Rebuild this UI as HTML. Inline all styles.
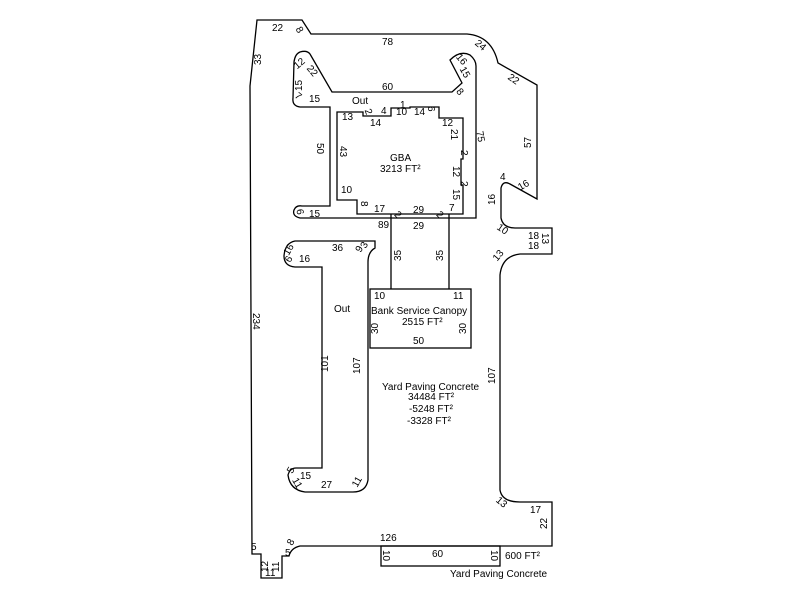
<!DOCTYPE html>
<html><head><meta charset="utf-8"><style>
html,body{margin:0;padding:0;background:#fff;}
svg{display:block;}
text{font-family:"Liberation Sans",sans-serif;font-size:10px;fill:#000;}
</style></head><body>
<svg width="800" height="600" viewBox="0 0 800 600" xmlns="http://www.w3.org/2000/svg">
<g fill="none" stroke="#000" stroke-width="1.3">
<path d="M257,20 L302,20 L311,34 L467,34 Q492,36 498,63 L537,85 L537,199 L510,184 Q503,180 501,188 L501,218 Q503,228 515,228 L552,228 L552,254 L520,254 Q502,256 500,275 L500,490 Q502,502 520,502 L552,502 L552,546 L300,546 Q291,548 289,556 L282,556 L282,578 L261,578 L261,554 L252,554 L250,86 Z"/>
<path d="M300,52 Q307,50 310,54 L332,92 L452,92 L462,83 L450,60 Q460,50 470,55 Q476,60 476,66 L476,218 L300,218 Q292,216 294,210 Q296,205 302,206 L330,206 L330,107 L300,107 Q292,106 293,98 L294,62 Q295,54 300,52 Z"/>
<path d="M337,112 L363,112 L363,116 L391,116 L391,108 L410,108 L410,107 L439,107 L439,118 L463,118 L463,159 L461,159 L461,185 L463,185 L463,214 L357,214 L357,200 L337,200 Z"/>
<path d="M391,214 L391,289 M449,214 L449,289"/>
<rect x="370" y="289" width="101" height="59"/>
<path d="M295,241 L375,241 L375,248 Q368,252 368,262 L368,480 Q366,492 353,492 L305,492 Q290,490 288,475 Q290,468 296,468 L322,468 L322,267 L295,267 Q284,266 284,256 Q285,243 295,241 Z"/>
<rect x="381" y="546" width="119" height="20"/>
</g>
<g>
<text x="272" y="31">22</text>
<text x="296" y="34" transform="rotate(60 300 31)">8</text>
<text x="382" y="45">78</text>
<text x="475" y="48" transform="rotate(40 480 45)">24</text>
<text x="508" y="82" transform="rotate(35 513 79)">22</text>
<text x="523" y="146" transform="rotate(-90 528 143)">57</text>
<text x="518" y="188" transform="rotate(-30 524 185)">16</text>
<text x="500" y="180">4</text>
<text x="485" y="201" transform="rotate(-90 492 198)">16</text>
<text x="497" y="232" transform="rotate(35 502 229)">10</text>
<text x="528" y="239">18</text>
<text x="528" y="249">18</text>
<text x="540" y="241" transform="rotate(90 545 238)">13</text>
<text x="493" y="259" transform="rotate(-50 498 256)">13</text>
<text x="485" y="380" transform="rotate(-90 492 377)">107</text>
<text x="496" y="505" transform="rotate(40 501 502)">13</text>
<text x="530" y="513">17</text>
<text x="537" y="525" transform="rotate(-90 544 522)">22</text>
<text x="248" y="58" transform="rotate(-90 258 55)">33</text>
<text x="250" y="322" transform="rotate(90 256 319)">234</text>
<text x="251" y="550">5</text>
<text x="258" y="568" transform="rotate(-90 265 565)">12</text>
<text x="269" y="568" transform="rotate(-90 276 565)">11</text>
<text x="265" y="576">11</text>
<text x="285" y="556">5</text>
<text x="288" y="545" transform="rotate(-60 291 542)">8</text>
<text x="380" y="541">126</text>
<text x="432" y="557">60</text>
<text x="382" y="557" transform="rotate(90 386 554)">10</text>
<text x="490" y="557" transform="rotate(90 494 554)">10</text>
<text x="505" y="559">600 FT²</text>
<text x="450" y="577">Yard Paving Concrete</text>
<text x="382" y="90">60</text>
<text x="352" y="104">Out</text>
<text x="294" y="67" transform="rotate(-40 299 64)">12</text>
<text x="306" y="75" transform="rotate(50 313 72)">22</text>
<text x="292" y="87" transform="rotate(-90 299 84)">15</text>
<text x="295" y="100" transform="rotate(40 299 97)">7</text>
<text x="309" y="102">15</text>
<text x="456" y="62" transform="rotate(50 461 59)">16</text>
<text x="460" y="74" transform="rotate(60 464 71)">15</text>
<text x="457" y="95" transform="rotate(50 460 92)">8</text>
<text x="476" y="138" transform="rotate(80 480 135)">75</text>
<text x="314" y="152" transform="rotate(90 320 149)">50</text>
<text x="296" y="216" transform="rotate(80 300 213)">6</text>
<text x="309" y="217">15</text>
<text x="342" y="120">13</text>
<text x="366" y="114" transform="rotate(70 368 111)">2</text>
<text x="381" y="114">4</text>
<text x="370" y="126">14</text>
<text x="396" y="115">10</text>
<text x="400" y="108">1</text>
<text x="414" y="115">14</text>
<text x="427" y="113" transform="rotate(90 431 110)">6</text>
<text x="442" y="126">12</text>
<text x="448" y="138" transform="rotate(90 454 135)">21</text>
<text x="460" y="157" transform="rotate(90 464 154)">2</text>
<text x="450" y="175" transform="rotate(90 456 172)">12</text>
<text x="460" y="188" transform="rotate(90 464 185)">2</text>
<text x="450" y="198" transform="rotate(90 456 195)">15</text>
<text x="449" y="211">7</text>
<text x="336" y="156" transform="rotate(90 343 153)">43</text>
<text x="341" y="193">10</text>
<text x="360" y="208" transform="rotate(90 364 205)">8</text>
<text x="374" y="212">17</text>
<text x="413" y="213">29</text>
<text x="395" y="218" transform="rotate(45 398 215)">2</text>
<text x="437" y="218" transform="rotate(45 440 215)">2</text>
<text x="378" y="228">89</text>
<text x="413" y="229">29</text>
<text x="390" y="161">GBA</text>
<text x="380" y="172">3213 FT²</text>
<text x="391" y="257" transform="rotate(-90 398 254)">35</text>
<text x="433" y="257" transform="rotate(-90 440 254)">35</text>
<text x="374" y="299">10</text>
<text x="453" y="299">11</text>
<text x="371" y="314">Bank Service Canopy</text>
<text x="402" y="325">2515 FT²</text>
<text x="368" y="330" transform="rotate(-90 375 327)">30</text>
<text x="456" y="330" transform="rotate(-90 463 327)">30</text>
<text x="413" y="344">50</text>
<text x="332" y="251">36</text>
<text x="356" y="251" transform="rotate(-60 360 248)">9</text>
<text x="361" y="247" transform="rotate(-60 365 244)">3</text>
<text x="284" y="254" transform="rotate(-60 288 251)">16</text>
<text x="286" y="262" transform="rotate(-60 289 259)">6</text>
<text x="299" y="262">16</text>
<text x="334" y="312">Out</text>
<text x="318" y="368" transform="rotate(-90 325 365)">101</text>
<text x="350" y="370" transform="rotate(-90 357 367)">107</text>
<text x="288" y="473" transform="rotate(-60 291 470)">5</text>
<text x="292" y="486" transform="rotate(60 297 483)">11</text>
<text x="300" y="479">15</text>
<text x="321" y="488">27</text>
<text x="352" y="485" transform="rotate(-60 357 482)">11</text>
<text x="382" y="390">Yard Paving Concrete</text>
<text x="408" y="400">34484 FT²</text>
<text x="409" y="412">-5248 FT²</text>
<text x="407" y="424">-3328 FT²</text>
</g>
</svg>
</body></html>
